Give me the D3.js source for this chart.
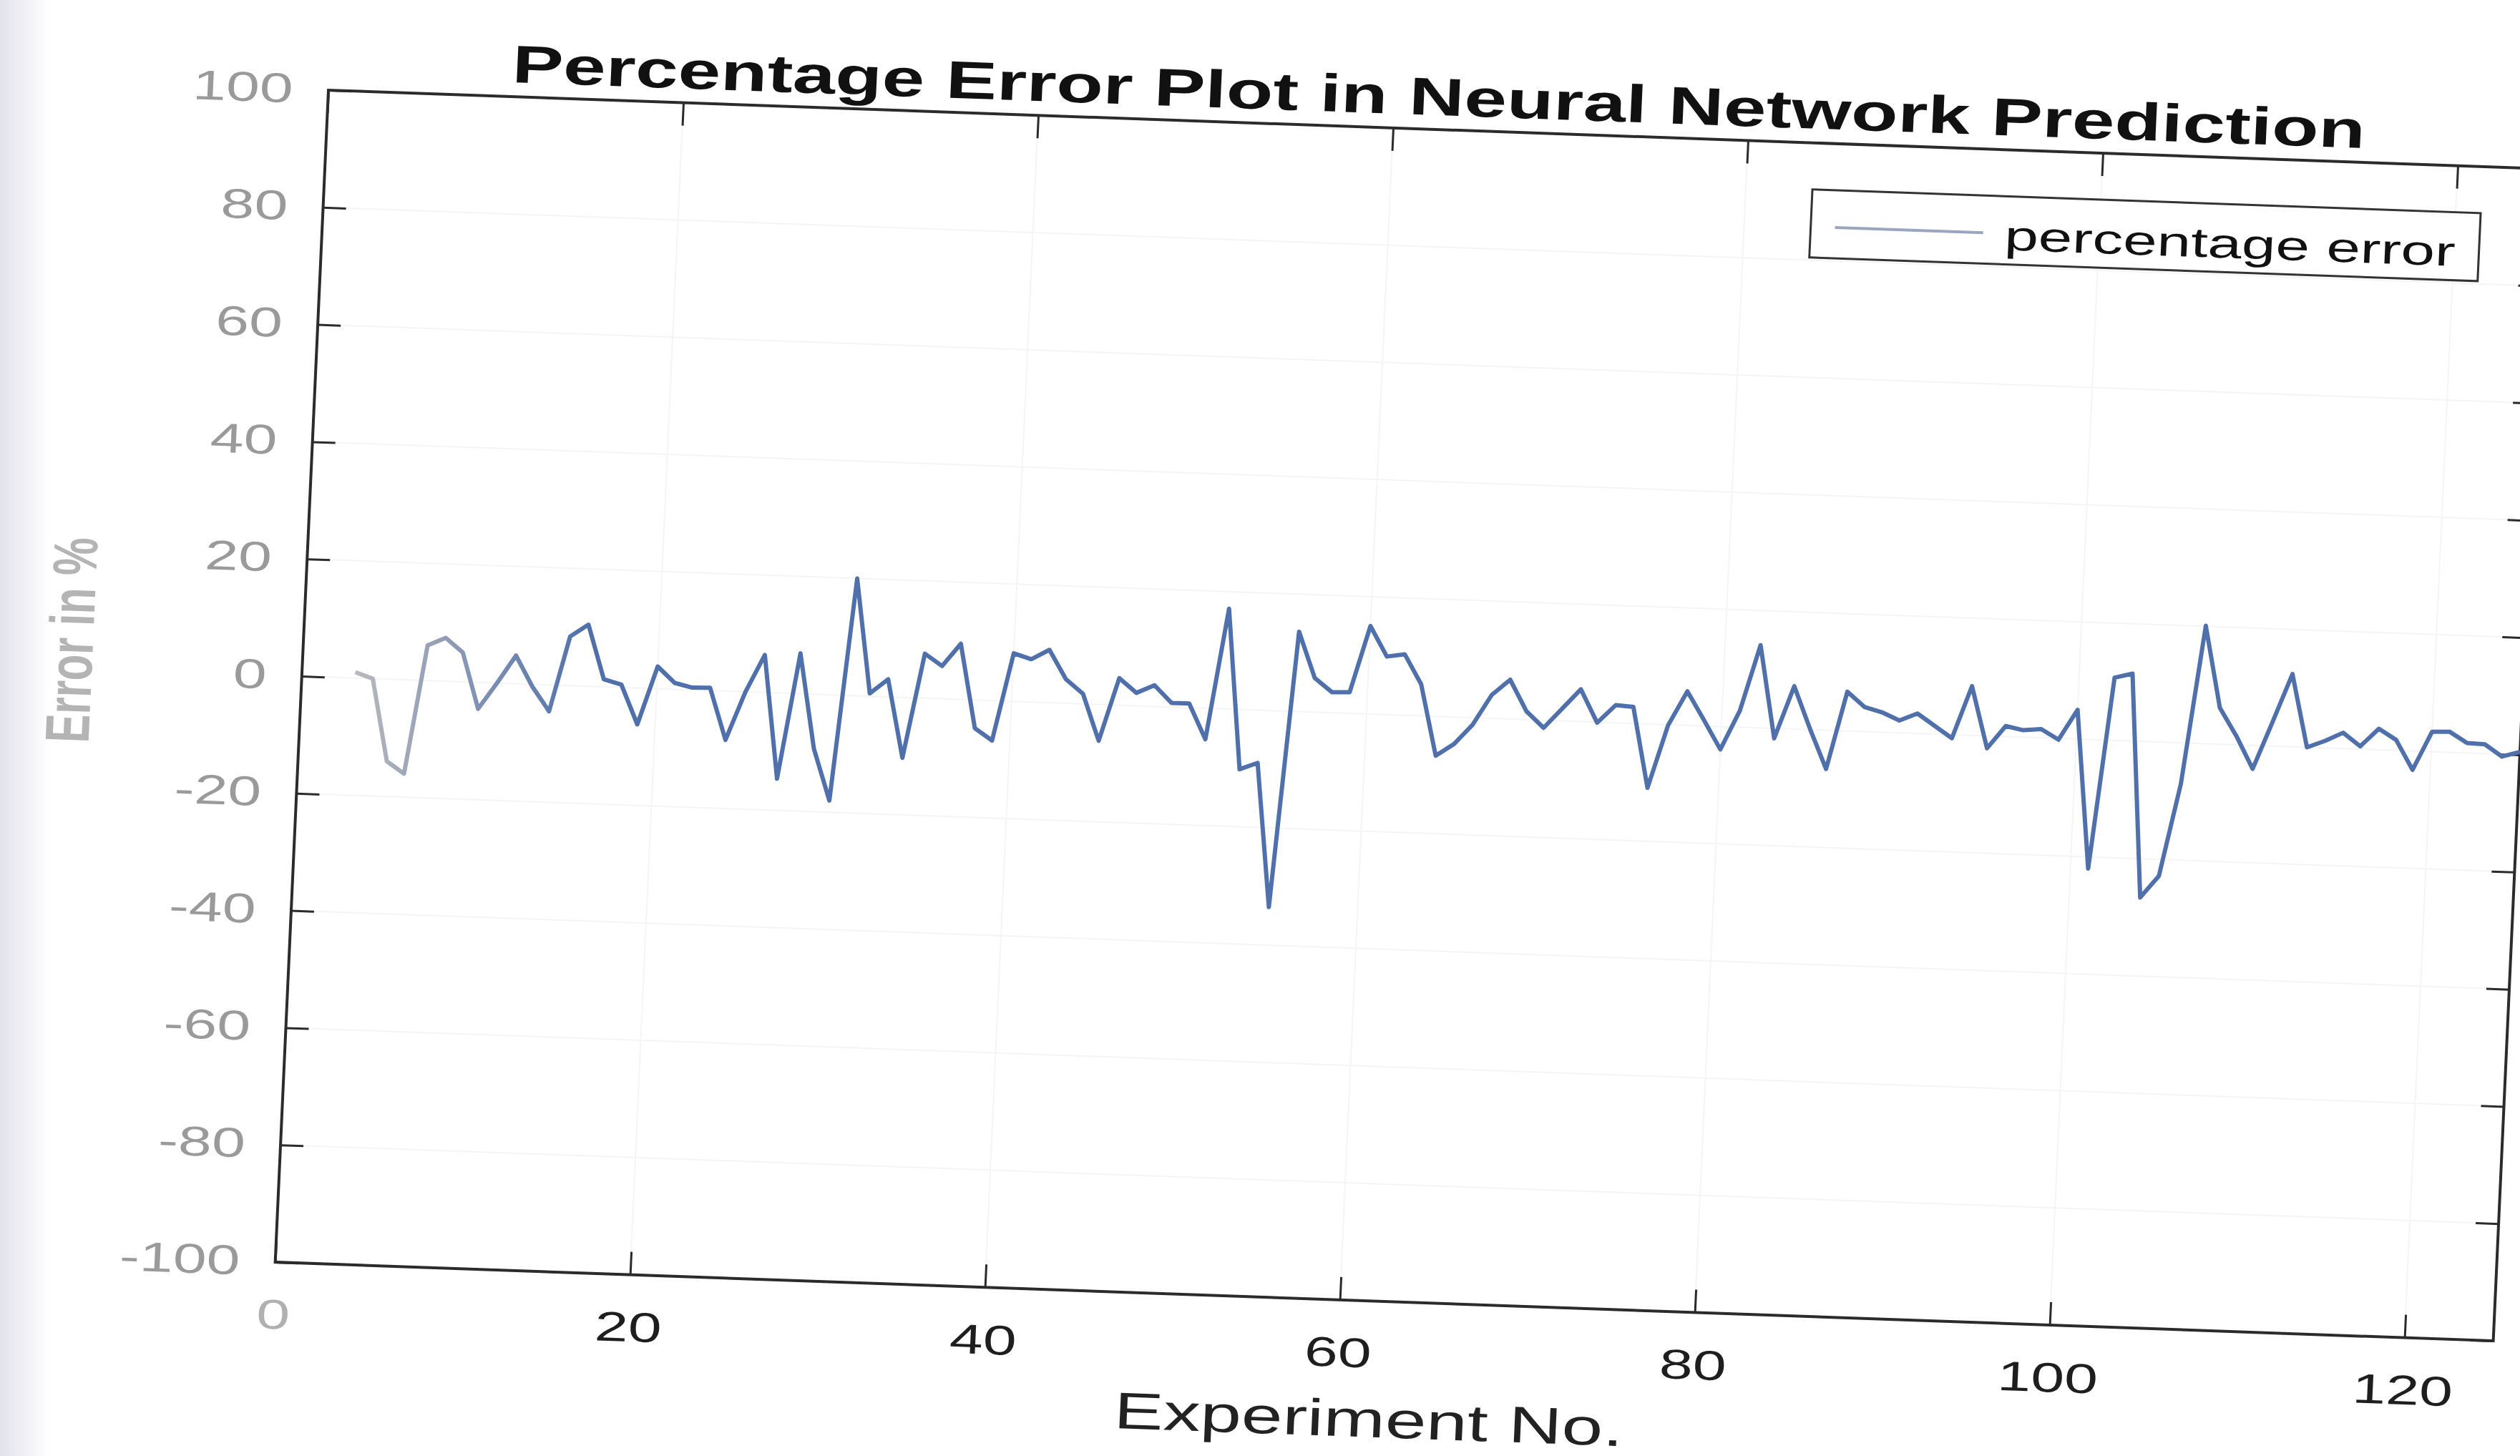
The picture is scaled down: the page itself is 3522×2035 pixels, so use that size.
<!DOCTYPE html>
<html lang="en">
<head>
    <meta charset="UTF-8">
    <title>Percentage Error Plot in Neural Network Prediction</title>
    <script src="https://d3js.org/d3.v7.min.js"></script>
    <style>
        body { margin: 0; background: #fff; }
        svg { display: block; font-family: "Liberation Sans", Arial, sans-serif; }
    </style>
</head>
<body>
    <div id="chart"></div>
    <script>
        // values
        const experiments = [3, 4, 5, 6, 7, 8, 9, 10, 11, 12, 13, 14, 15, 16, 17, 18, 19, 20,
            21, 22, 23, 24, 25, 26, 27, 28, 29, 30, 31, 32, 33, 34, 35, 36, 37, 38, 39, 40,
            41, 42, 43, 44, 45, 46, 47, 48, 49, 50, 51, 52, 53, 54, 55, 56, 57, 58, 59, 60,
            61, 62, 63, 64, 65, 66, 67, 68, 69, 70, 71, 72, 73, 74, 75, 76, 77, 78, 79, 80,
            81, 82, 83, 84, 85, 86, 87, 88, 89, 90, 91, 92, 93, 94, 95, 96, 97, 98, 99, 100,
            101, 102, 103, 104, 105, 106, 107, 108, 109, 110, 111, 112, 113, 114, 115, 116,
            117, 118, 119, 120, 121, 122, 123, 124, 125];

        const percentError = [1, 0, -14, -16, 6, 7.4, 5, -4.5, 0, 4.8, -0.4, -4.5, 8.4, 10.5,
            1.3, 0.5, -6.2, 3.8, 1.1, 0.4, 0.5, -8.3, 0, 6.4, -14.6, 6.9, -9.3, -18, 20, 0.5,
            3, -10.3, 7.6, 5.6, 9.5, -4.8, -6.8, 8.2, 7.3, 9, 4.1, 1.7, -6.2, 4.6, 2.2, 3.6,
            0.7, 0.7, -5.3, 17.1, -10.2, -9, -33.5, 13.6, 5.8, 3.5, 3.6, 15, 9.9, 10.4, 5.4,
            -6.7, -4.6, -1.2, 4, 6.7, 1.4, -1.3, 2.1, 5.5, -0.1, 3, 2.8, -10.9, -0.1, 5.8, 1,
            -3.9, 2.8, 14.1, -1.7, 7.3, 0.1, -6.6, 6.7, 4.2, 3.4, 2.1, 3.4, 1.4, -0.6, 8.4,
            -2.1, 1.8, 1.2, 1.5, -0.2, 5, -22, 10.7, 11.5, -26.6, -22.8, -7, 20.1, 6.2, 1.5,
            -4, 4.1, 12.4, 0, 1.2, 2.7, 0.5, 3.6, 1.8, -3.2, 3.4, 3.5, 1.7, 1.6, -0.4, 0.5];

        const xTicks = [0, 20, 40, 60, 80, 100, 120];
        const yTicks = [-100, -80, -60, -40, -20, 0, 20, 40, 60, 80, 100];

        const titleText = "Percentage Error Plot in Neural Network Prediction";
        const xLabel = "Experiment No.";
        const yLabel = "Error in %";
        const legendLabel = "percentage error";

        // Page and plot sizes
        const pageW = 3522, pageH = 2035;
        const W = 3100, H = 1638;
        const lineColor = "#5070ab";
        const stretch = 1.45; // scan is stretched sideways, text too

        const svg = d3.select("#chart")
            .append("svg")
            .attr("width", pageW)
            .attr("height", pageH);

        const defs = svg.append("defs");

        // grey shade along the left edge of the scan
        const edge = defs.append("linearGradient").attr("id", "edge");
        edge.append("stop").attr("offset", 0).attr("stop-color", "#e2e2ea");
        edge.append("stop").attr("offset", 1).attr("stop-color", "#ffffff");
        svg.append("rect")
            .attr("width", 70).attr("height", pageH)
            .attr("fill", "url(#edge)");

        // the photographed page sits slightly skewed
        const plot = svg.append("g")
            .attr("transform", "matrix(1,0.0355,-0.0454,1,459,126)");

        const x = d3.scaleLinear().domain([0, 125]).range([0, W]);
        const y = d3.scaleLinear().domain([-100, 100]).range([H, 0]);

        // faint grid
        plot.append("g")
            .selectAll("line")
            .data(xTicks.slice(1))
            .join("line")
            .attr("x1", d => x(d)).attr("x2", d => x(d))
            .attr("y1", 0).attr("y2", H)
            .attr("stroke", "#f5f5f5").attr("stroke-width", 2);
        plot.append("g")
            .selectAll("line")
            .data(yTicks.slice(1, -1))
            .join("line")
            .attr("x1", 0).attr("x2", W)
            .attr("y1", d => y(d)).attr("y2", d => y(d))
            .attr("stroke", "#f5f5f5").attr("stroke-width", 2);

        // axes, ticks pointing inwards like matlab
        const xAxis = plot.append("g")
            .attr("transform", `translate(0,${H})`)
            .call(d3.axisBottom(x).tickValues(xTicks).tickSizeInner(-32).tickSizeOuter(0).tickPadding(52));
        const xTop = plot.append("g")
            .call(d3.axisTop(x).tickValues(xTicks).tickSizeInner(-32).tickSizeOuter(0).tickFormat(""));
        const yAxis = plot.append("g")
            .call(d3.axisLeft(y).tickValues(yTicks).tickSizeInner(-32).tickSizeOuter(0)
                .tickPadding(34).tickFormat(d => String(d)));
        const yRight = plot.append("g")
            .attr("transform", `translate(${W},0)`)
            .call(d3.axisRight(y).tickValues(yTicks).tickSizeInner(-32).tickSizeOuter(0).tickFormat(""));

        [xAxis, xTop, yAxis, yRight].forEach(a => {
            a.select(".domain").remove();
            a.selectAll(".tick line").attr("stroke", "#2b2b2b").attr("stroke-width", 3);
        });

        xAxis.selectAll("text")
            .attr("font-size", 58)
            .attr("fill", d => d === 0 ? "#b0b0b0" : "#1e1e1e")
            .attr("transform", `scale(${stretch},1)`);
        yAxis.selectAll("text")
            .attr("font-size", 58)
            .attr("fill", "#9a9a9a")
            .attr("transform", `scale(${stretch},1)`);

        plot.append("rect")
            .attr("width", W).attr("height", H)
            .attr("fill", "none")
            .attr("stroke", "#2b2b2b")
            .attr("stroke-width", 4);

        // line fades to grey on the left like the scan
        const fade = defs.append("linearGradient")
            .attr("id", "fade")
            .attr("gradientUnits", "userSpaceOnUse")
            .attr("x1", x(3)).attr("x2", x(16))
            .attr("y1", 0).attr("y2", 0);
        fade.append("stop").attr("offset", 0).attr("stop-color", "#b9b9bd");
        fade.append("stop").attr("offset", 1).attr("stop-color", lineColor);

        const line = d3.line()
            .x((d, i) => x(experiments[i]))
            .y(d => y(d));

        plot.append("path")
            .datum(percentError)
            .attr("d", line)
            .attr("fill", "none")
            .attr("stroke", "url(#fade)")
            .attr("stroke-width", 6)
            .attr("stroke-linejoin", "round");

        // title and labels
        plot.append("text")
            .attr("x", 1550).attr("y", -20)
            .attr("text-anchor", "middle")
            .attr("font-size", 74)
            .attr("font-weight", "bold")
            .attr("textLength", 2590)
            .attr("lengthAdjust", "spacingAndGlyphs")
            .attr("fill", "#111")
            .text(titleText);

        plot.append("text")
            .attr("x", 1536).attr("y", 1828)
            .attr("text-anchor", "middle")
            .attr("font-size", 72)
            .attr("textLength", 712)
            .attr("lengthAdjust", "spacingAndGlyphs")
            .attr("fill", "#222")
            .text(xLabel);

        plot.append("text")
            .attr("transform", `translate(-324,780) rotate(-90) scale(1,${stretch})`)
            .attr("text-anchor", "middle")
            .attr("dy", "0.35em")
            .attr("font-size", 60)
            .attr("font-weight", "bold")
            .attr("fill", "#b4b4b4")
            .text(yLabel);

        // legend
        const legend = plot.append("g");
        legend.append("rect")
            .attr("x", 2077).attr("y", 65)
            .attr("width", 934).attr("height", 95)
            .attr("fill", "#fff")
            .attr("stroke", "#333")
            .attr("stroke-width", 3);
        legend.append("line")
            .attr("x1", 2111).attr("x2", 2318)
            .attr("y1", 117).attr("y2", 117)
            .attr("stroke", "#9aa6c0")
            .attr("stroke-width", 4);
        legend.append("text")
            .attr("x", 2348).attr("y", 140)
            .attr("font-size", 58)
            .attr("textLength", 630)
            .attr("lengthAdjust", "spacingAndGlyphs")
            .attr("fill", "#111")
            .text(legendLabel);
    </script>
</body>
</html>
